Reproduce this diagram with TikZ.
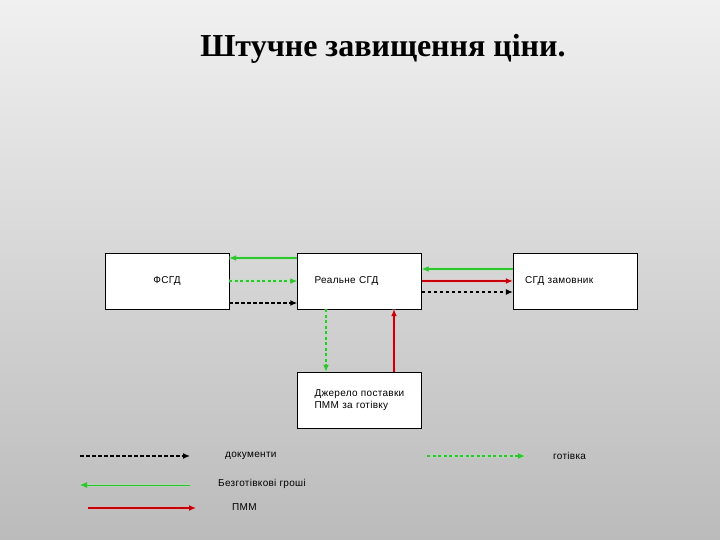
\documentclass[tikz,border=0pt]{standalone}
\usepackage{fontspec}
\setmainfont{Liberation Serif}
\setsansfont{Liberation Sans}[LetterSpace=3]
\usetikzlibrary{arrows.meta, positioning, calc}
\definecolor{bgtop}{HTML}{F0F0F0}
\definecolor{bgbot}{HTML}{BBBBBB}
\definecolor{cgreen}{HTML}{2EC62E}
\definecolor{cred}{HTML}{C8000A}
\definecolor{cblack}{HTML}{000000}
\tikzset{
  unit/.style={rectangle, draw=black, fill=white, thin, minimum width=124pt,
               minimum height=56pt, inner sep=0pt, font=\sffamily\fontsize{10}{12}\selectfont},
  unitl/.style={unit, text width=90pt, inner xsep=17pt, align=left},
  lgd/.style={anchor=west, inner sep=0pt, font=\sffamily\fontsize{10}{12}\selectfont},
  tip/.style={-{Latex[length=7pt, width=6pt]}},
  money/.style={tip, draw=cgreen, line width=1.3pt,
                preaction={draw=cgreen!40, line width=3.5pt, opacity=0.35, -}},
  cash/.style={tip, draw=cgreen, line width=1.5pt, dash pattern=on 3pt off 2.5pt,
               preaction={draw=cgreen!40, line width=4pt, opacity=0.3, -}},
  fuel/.style={tip, draw=cred, line width=1.5pt,
               preaction={draw=red!35, line width=4pt, opacity=0.3, -}},
  docs/.style={tip, draw=cblack, line width=1.5pt, dash pattern=on 3.5pt off 2.5pt},
}
\begin{document}
\begin{tikzpicture}[x=1pt,y=-1pt]
  \shade[top color=bgtop, bottom color=bgbot] (0,0) rectangle (720,540);
  \useasboundingbox (0,0) rectangle (720,540);
  \node[font=\bfseries\fontsize{32}{36}\selectfont] (title) at (383,49) {Штучне завищення ціни.};
  % units
  \node[unit]  (fsgd) at (167,281)   {ФСГД};
  \node[unitl] (real) at (359.5,281) {Реальне СГД};
  \node[unitl, text width=100pt, inner xsep=12pt] (zam) at (575,281) {СГД замовник};
  \node[unitl] (src)  at (359.5,400) {Джерело поставки\\ПММ за готівку};
  % flows between units
  \draw[money] ([yshift=23pt]real.west) -- ([yshift=23pt]fsgd.east);
  \draw[cash]  (fsgd.east) -- (real.west);
  \draw[docs, line width=2pt] ([yshift=-22pt]fsgd.east) -- ([yshift=-22pt]real.west);
  \draw[money, line width=1.8pt] ([yshift=12pt]zam.west) -- ([yshift=12pt]real.east);
  \draw[fuel, line width=1.3pt] (real.east) -- (zam.west);
  \draw[docs, line width=1.1pt] ([yshift=-11pt]real.east) -- ([yshift=-11pt]zam.west);
  \draw[cash]  ([xshift=-33.5pt]real.south) -- ([xshift=-33.5pt]src.north);
  \draw[fuel]  ([xshift=34.5pt]src.north) -- ([xshift=34.5pt]real.south);
  % legend
  \coordinate (d0) at (80,456);  \coordinate (d1) at (190,456);
  \coordinate (m0) at (190,485); \coordinate (m1) at (80,485);
  \coordinate (p0) at (88,508);  \coordinate (p1) at (196,508);
  \coordinate (c0) at (427,456); \coordinate (c1) at (525,456);
  \draw[docs] (d0) -- (d1);
  \draw[money, line width=1pt] (m0) -- (m1);
  \draw[fuel, line width=2pt] (p0) -- (p1);
  \draw[cash] (c0) -- (c1);
  \node[lgd] (ldocs)  at (225,456) {документи};
  \node[lgd] (lmoney) at (218,484) {Безготівкові гроші};
  \node[lgd] (lfuel)  at (232,507) {ПММ};
  \node[lgd] (lcash)  at (553,456) {готівка};
\end{tikzpicture}
\end{document}
